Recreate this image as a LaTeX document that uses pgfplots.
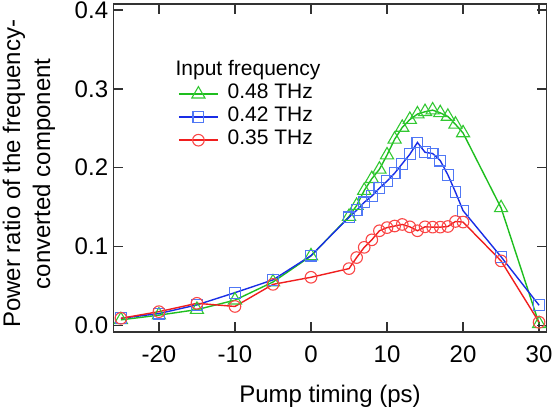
\documentclass[border=0pt]{standalone}
\usepackage{fontspec}
\setmainfont{Liberation Sans}
\usepackage{pgfplots}
\pgfplotsset{compat=1.18}
\definecolor{cgreen}{RGB}{30,190,30}
\definecolor{cgreenm}{RGB}{50,200,50}
\definecolor{cblue}{RGB}{25,45,230}
\definecolor{cbluem}{RGB}{80,120,245}
\definecolor{cred}{RGB}{240,30,30}
\definecolor{credm}{RGB}{250,70,70}
\definecolor{frame}{RGB}{50,50,50}
\begin{document}
\begin{tikzpicture}
\begin{axis}[
  name=ax,
  scale only axis, width=433.4pt, height=328pt,
  xmin=-26, xmax=31, ymin=-0.0084, ymax=0.4076,
  xtick={-20,-10,0,10,20,30}, xticklabels={-20,-10,0,10,20,30},
  ytick={0,0.1,0.2,0.3,0.4}, yticklabels={0.0,0.1,0.2,0.3,0.4},
  tick align=inside, major tick length=10pt,
  xtick pos=both, ytick pos=both,
  axis line style={line width=1.5pt, draw=frame},
  every tick/.style={line width=1.5pt, frame},
  ticklabel style={font=\fontsize{24}{28}\selectfont},
  xticklabel style={anchor=base, yshift=-30pt, inner sep=0pt},
  yticklabel style={anchor=east, xshift=-5pt, inner sep=0pt},
  xlabel={Pump timing (ps)},
  xlabel style={at={(axis description cs:0.5,-0.2134)}, anchor=base, inner sep=0pt, font=\fontsize{24}{30}\selectfont},
  ylabel={Power ratio of the frequency-\\converted component},
  ylabel style={at={(axis description cs:-0.2557,0.482)}, anchor=north, rotate=0, align=center, inner sep=0pt, font=\fontsize{24}{30}\selectfont},
  clip=false,
  legend style={at={(rel axis cs:0.1493,0.8308)}, anchor=north west, draw=none, fill=none, inner sep=0pt,
    font=\fontsize{21}{23}\selectfont, row sep=0pt,
    nodes={inner sep=0pt, text height=16pt, text depth=7pt},
    /tikz/every odd column/.append style={column sep=9pt}},
  legend cell align=left,
  legend image code/.code={\draw[mark repeat=2, mark phase=2] plot coordinates {(0pt,0pt)(19.5pt,0pt)(39pt,0pt)};},
]
\addlegendimage{empty legend}
\addlegendentry{\hspace*{-52pt}Input frequency}
\addplot[color=cgreen, line width=1.4pt, mark=triangle, mark size=7.6pt, mark options={draw=cgreenm, line width=1.1pt, solid}] coordinates {
(-25,0.007) (-20,0.013) (-15,0.020) (-10,0.032) (-5,0.055) (0,0.088)
(5,0.138) (6,0.152) (7,0.171) (8,0.186) (9,0.198) (10,0.216) (11,0.236) (12,0.251)
(13,0.261) (14,0.268) (15,0.271) (16,0.273) (17,0.2695) (18,0.265) (19,0.255) (20,0.244)
(25,0.149) (30,0.002)};
\addlegendentry{0.48 THz}
\addplot[color=cblue, line width=1.4pt, mark=square, mark size=5.4pt, mark options={draw=cbluem, line width=1.1pt, solid}] coordinates {
(-25,0.009) (-20,0.015) (-15,0.026) (-10,0.0415) (-5,0.0577) (0,0.0885)
(5,0.137) (6,0.146) (7,0.156) (8,0.164) (9,0.174) (10,0.183) (11,0.193) (12,0.205)
(13,0.217) (14,0.232) (15,0.2195) (16,0.218) (17,0.209) (18,0.191) (19,0.169) (20,0.1455)
(25,0.087) (30,0.0255)};
\addlegendentry{0.42 THz}
\addplot[color=cred, line width=1.4pt, mark=o, mark size=5.8pt, mark options={draw=credm, line width=1.1pt, solid}] coordinates {
(-25,0.009) (-20,0.0174) (-15,0.028) (-10,0.024) (-5,0.052) (0,0.061)
(5,0.072) (6,0.086) (7,0.099) (8,0.1085) (9,0.120) (10,0.124) (11,0.126) (12,0.128)
(13,0.125) (14,0.120) (15,0.125) (16,0.1246) (17,0.1246) (18,0.1254) (19,0.1318) (20,0.131)
(25,0.0818) (30,0.004)};
\addlegendentry{0.35 THz}
\end{axis}
\pgfresetboundingbox
\path ([shift={(-113.3pt,-76pt)}]ax.south west) rectangle ([shift={(7.3pt,4pt)}]ax.north east);
\end{tikzpicture}
\end{document}
